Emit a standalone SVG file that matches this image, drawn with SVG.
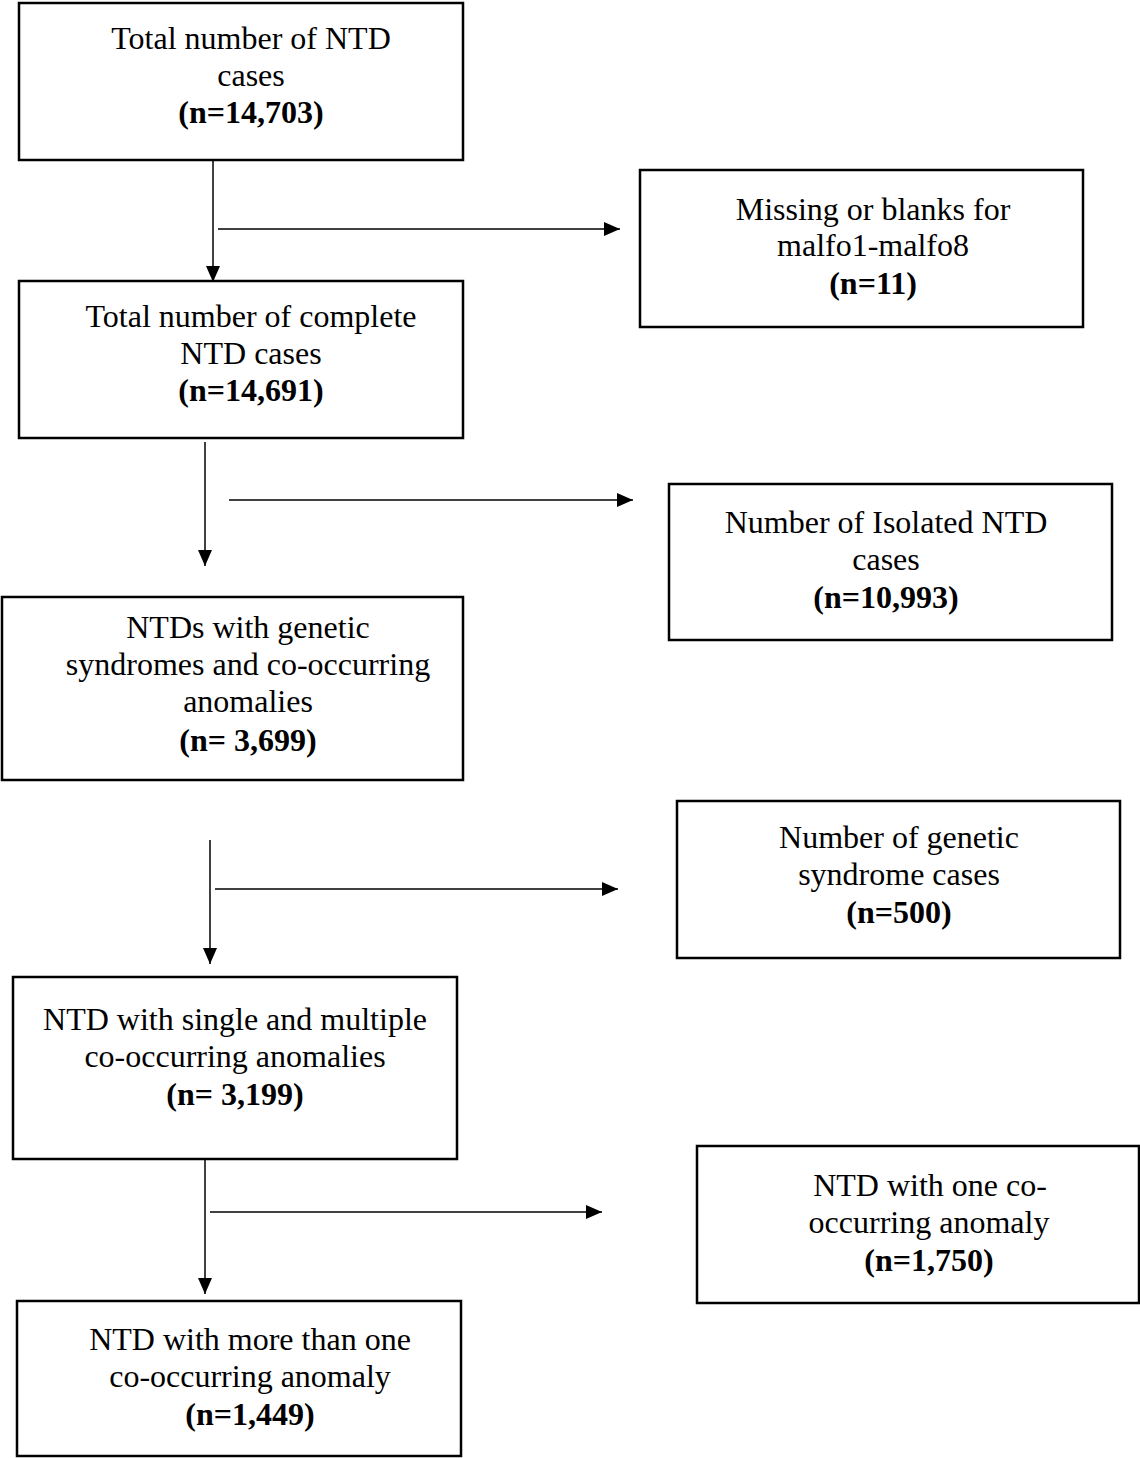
<svg xmlns="http://www.w3.org/2000/svg" width="1140" height="1458" viewBox="0 0 1140 1458">
<style>
.box{fill:#fff;stroke:#000;stroke-width:2.5}
text{font-family:"Liberation Serif","Times New Roman",serif;font-size:32px;fill:#000;text-anchor:middle}
.b{font-weight:bold}
.c{stroke:#000;stroke-width:1.5;fill:none;marker-end:url(#ah)}
</style>
<defs>
<marker id="ah" markerUnits="userSpaceOnUse" markerWidth="16" markerHeight="14" refX="16" refY="7" orient="auto">
<path d="M0,0 L16,7 L0,14 z" fill="#000"/>
</marker>
</defs>
<rect width="1140" height="1458" fill="#fff"/>
<g id="connectors">
<line class="c" x1="213" y1="160" x2="213" y2="282"/>
<line class="c" x1="218" y1="229" x2="620" y2="229"/>
<line class="c" x1="205" y1="442" x2="205" y2="566"/>
<line class="c" x1="229" y1="500" x2="633" y2="500"/>
<line class="c" x1="210" y1="840" x2="210" y2="964"/>
<line class="c" x1="215" y1="889" x2="618" y2="889"/>
<line class="c" x1="205" y1="1157" x2="205" y2="1294"/>
<line class="c" x1="210" y1="1212" x2="602" y2="1212"/>
</g>
<g id="n1">
<rect class="box" x="19" y="3" width="444" height="157"/>
<text x="251" y="49">Total number of NTD</text>
<text x="251" y="86">cases</text>
<text class="b" x="251" y="123">(n=14,703)</text>
</g>
<g id="r1">
<rect class="box" x="640" y="170" width="443" height="157"/>
<text x="873" y="220">Missing or blanks for</text>
<text x="873" y="256">malfo1-malfo8</text>
<text class="b" x="873" y="294">(n=11)</text>
</g>
<g id="n2">
<rect class="box" x="19" y="281" width="444" height="157"/>
<text x="251" y="327">Total number of complete</text>
<text x="251" y="364">NTD cases</text>
<text class="b" x="251" y="401">(n=14,691)</text>
</g>
<g id="r2">
<rect class="box" x="669" y="484" width="443" height="156"/>
<text x="886" y="533">Number of Isolated NTD</text>
<text x="886" y="570">cases</text>
<text class="b" x="886" y="608">(n=10,993)</text>
</g>
<g id="n3">
<rect class="box" x="2" y="597" width="461" height="183"/>
<text x="248" y="638">NTDs with genetic</text>
<text x="248" y="675">syndromes and co-occurring</text>
<text x="248" y="712">anomalies</text>
<text class="b" x="248" y="751">(n= 3,699)</text>
</g>
<g id="r3">
<rect class="box" x="677" y="801" width="443" height="157"/>
<text x="899" y="848">Number of genetic</text>
<text x="899" y="885">syndrome cases</text>
<text class="b" x="899" y="923">(n=500)</text>
</g>
<g id="n4">
<rect class="box" x="13" y="977" width="444" height="182"/>
<text x="235" y="1030">NTD with single and multiple</text>
<text x="235" y="1067">co-occurring anomalies</text>
<text class="b" x="235" y="1105">(n= 3,199)</text>
</g>
<g id="r4">
<rect class="box" x="697" y="1146" width="442" height="157"/>
<text x="930" y="1196">NTD with one co-</text>
<text x="929" y="1233">occurring anomaly</text>
<text class="b" x="929" y="1271">(n=1,750)</text>
</g>
<g id="n5">
<rect class="box" x="17" y="1301" width="444" height="155"/>
<text x="250" y="1350">NTD with more than one</text>
<text x="250" y="1387">co-occurring anomaly</text>
<text class="b" x="250" y="1425">(n=1,449)</text>
</g>
</svg>
